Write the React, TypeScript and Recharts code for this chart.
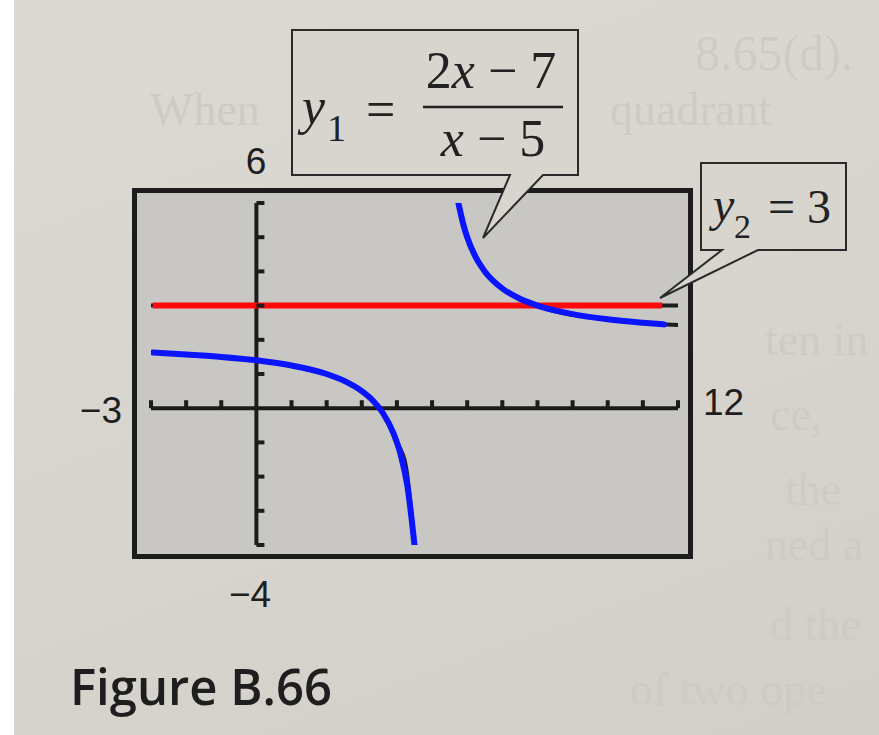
import { LineChart, Line, XAxis, YAxis, ReferenceLine, ReferenceDot } from "recharts";

// calculator window
const xDomain = [-3, 12];
const yDomain = [-4, 6];
const xTickValues = [-3, -2, -1, 1, 2, 3, 4, 5, 6, 7, 8, 9, 10, 11, 12];
const yTickValues = [-4, -3, -2, -1, 1, 2, 3, 4, 5, 6];

// y1 = (2x - 7)/(x - 5), blue pen trace, left of the asymptote x = 5
const y1LeftX = [-2.95, -2, -1, 0, 1, 2, 2.5, 3, 3.3, 3.6, 3.9, 4.1, 4.3, 4.5];
const y1LeftY = [1.63, 1.57, 1.5, 1.4, 1.25, 1.0, 0.8, 0.5, 0.24, -0.14, -0.73, -1.33, -2.29, -4];
// right of the asymptote
const y1RightX = [5.75, 5.9, 6, 6.25, 6.5, 7, 7.5, 8, 9, 10, 11, 11.6];
const y1RightY = [6, 5.33, 5, 4.4, 4, 3.5, 3.2, 3, 2.75, 2.6, 2.5, 2.45];

// calculator's own black trace, runs to the window edges
const calcLeftX = [-3, -1, 1, 2, 3, 3.5, 4, 4.25, 4.5];
const calcLeftY = [1.63, 1.5, 1.25, 1.0, 0.5, 0, -1, -1.67, -4];
const calcRightX = [5.75, 6, 6.5, 7, 8, 10, 12];
const calcRightY = [6, 5, 4, 3.5, 3, 2.6, 2.43];

// y2 = 3
const y2PenX = [-2.95, 11.55];
const y2CalcX = [-3, 12];
const y2Value = 3;

const toPoints = (xs: number[], ys: number[]) => xs.map((x, i) => ({ x, y: ys[i] }));

const leftPen = toPoints(y1LeftX, y1LeftY);
const rightPen = toPoints(y1RightX, y1RightY);
const leftCalc = toPoints(calcLeftX, calcLeftY);
const rightCalc = toPoints(calcRightX, calcRightY);
const y2Pen = y2PenX.map((x) => ({ x, y: y2Value }));
const y2Calc = y2CalcX.map((x) => ({ x, y: y2Value }));

const INK = "#1c1c1c";
const PAPER = "#d8d5ce";
const SCREEN = "#c8c7c3";

const XTick = (p: any) => (
  <line x1={p.cx} x2={p.cx} y1={p.cy} y2={p.cy - 8} stroke={INK} strokeWidth={4} />
);
const YTick = (p: any) => (
  <line x1={p.cx} x2={p.cx + 8} y1={p.cy} y2={p.cy} stroke={INK} strokeWidth={4} />
);

// faint print showing through the page
const ghost = [
  { t: "8.65(d).", x: 695, y: 70, s: 50 },
  { t: "When", x: 150, y: 125, s: 46 },
  { t: "quadrant", x: 610, y: 125, s: 46 },
  { t: "ten in", x: 765, y: 355, s: 46 },
  { t: "ce,", x: 770, y: 430, s: 46 },
  { t: "the", x: 785, y: 505, s: 46 },
  { t: "ned a", x: 765, y: 560, s: 46 },
  { t: "d the", x: 770, y: 640, s: 46 },
  { t: "of two ope", x: 630, y: 705, s: 46 },
];

export default function App() {
  return (
    <div style={{ position: "absolute", left: 0, top: 0, width: 879, height: 735, background: "#fff", overflow: "hidden" }}>
      <div
        style={{
          position: "absolute",
          left: 14,
          top: 0,
          width: 865,
          height: 735,
          background: `linear-gradient(160deg, #dcd9d3 0%, ${PAPER} 50%, #d2cfc8 100%)`,
        }}
      />
      <svg width={879} height={735} style={{ position: "absolute", left: 0, top: 0 }}>
        {ghost.map((g) => (
          <text key={g.t} x={g.x} y={g.y} fontSize={g.s} fontFamily="Liberation Serif" fill="#cfcbc4">
            {g.t}
          </text>
        ))}
      </svg>

      {/* calculator screen frame */}
      <div
        style={{
          position: "absolute",
          left: 132,
          top: 188,
          width: 561,
          height: 371,
          boxSizing: "border-box",
          border: `5px solid ${INK}`,
          background: SCREEN,
        }}
      />

      {/* callouts */}
      <svg width={879} height={735} style={{ position: "absolute", left: 0, top: 0 }} fontFamily="Liberation Serif" fill="#222">
        <path d="M292,30 H578 V175 H543 L483,238 L510,175 H292 Z" fill={PAPER} stroke="#2a2a2a" strokeWidth={2} />
        <text x={302} y={124} fontSize={52} fontStyle="italic">y</text>
        <text x={327} y={141} fontSize={38}>1</text>
        <text x={366} y={127} fontSize={52}>=</text>
        <text x={491} y={88} fontSize={52} textAnchor="middle">
          2<tspan fontStyle="italic">x</tspan> − 7
        </text>
        <line x1={423} x2={563} y1={107} y2={107} stroke="#222" strokeWidth={2.5} />
        <text x={493} y={156} fontSize={52} textAnchor="middle">
          <tspan fontStyle="italic">x</tspan> − 5
        </text>

        <path d="M701,163 H846 V250 H758 L660,298 L722,250 H701 Z" fill={PAPER} stroke="#2a2a2a" strokeWidth={2} />
        <text x={713} y={221} fontSize={48} fontStyle="italic">y</text>
        <text x={734} y={238} fontSize={34}>2</text>
        <text x={768} y={223} fontSize={48}>= 3</text>
      </svg>

      <div style={{ position: "absolute", left: 0, top: 0 }}>
        <LineChart width={879} height={735} margin={{ left: 151, right: 201, top: 203, bottom: 190 }}>
          <XAxis type="number" dataKey="x" domain={xDomain} allowDataOverflow hide />
          <YAxis type="number" dataKey="y" domain={yDomain} allowDataOverflow hide />
          <ReferenceLine y={0} stroke={INK} strokeWidth={4} />
          <ReferenceLine x={0} stroke={INK} strokeWidth={4} />
          {xTickValues.map((t) => (
            <ReferenceDot key={`x${t}`} x={t} y={0} r={0} shape={XTick} />
          ))}
          {yTickValues.map((t) => (
            <ReferenceDot key={`y${t}`} x={0} y={t} r={0} shape={YTick} />
          ))}
          <Line data={leftCalc} dataKey="y" type="monotone" stroke={INK} strokeWidth={4} dot={false} isAnimationActive={false} />
          <Line data={rightCalc} dataKey="y" type="monotone" stroke={INK} strokeWidth={4} dot={false} isAnimationActive={false} />
          <Line data={y2Calc} dataKey="y" type="linear" stroke={INK} strokeWidth={4} dot={false} isAnimationActive={false} />
          <Line data={y2Pen} dataKey="y" type="linear" stroke="#ff0a0a" strokeWidth={6} dot={false} isAnimationActive={false} />
          <Line data={leftPen} dataKey="y" type="monotone" stroke="#0a14ff" strokeWidth={6} strokeLinecap="round" dot={false} isAnimationActive={false} />
          <Line data={rightPen} dataKey="y" type="monotone" stroke="#0a14ff" strokeWidth={6} strokeLinecap="round" dot={false} isAnimationActive={false} />
        </LineChart>
      </div>

      {/* window labels and caption */}
      <svg width={879} height={735} style={{ position: "absolute", left: 0, top: 0, pointerEvents: "none" }} fill="#1e1e1e">
        <g fontFamily="Liberation Sans" fontSize={37}>
          <text x={256} y={174} textAnchor="middle">6</text>
          <text x={122} y={423} textAnchor="end">−3</text>
          <text x={703} y={415}>12</text>
          <text x={250} y={607} textAnchor="middle">−4</text>
        </g>
        <text x={70} y={705} fontFamily="Open Sans" fontWeight={600} fontSize={50} textLength={262} lengthAdjust="spacingAndGlyphs">
          Figure B.66
        </text>
      </svg>
    </div>
  );
}
